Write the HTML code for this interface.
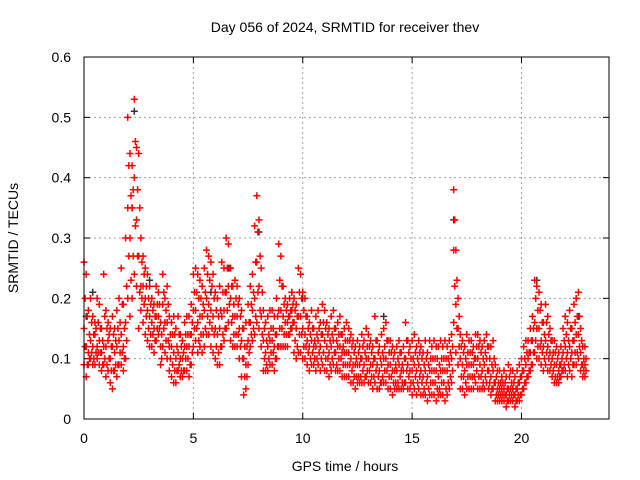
<!DOCTYPE html>
<html><head><meta charset="utf-8"><style>
body{margin:0;background:#fff}
svg{display:block;font-family:"Liberation Sans",sans-serif}
</style></head><body>
<svg id="chart" width="640" height="480" viewBox="0 0 640 480" xmlns="http://www.w3.org/2000/svg">
<rect width="640" height="480" fill="#fff"/>
<text x="345" y="32" font-size="14" text-anchor="middle">Day 056 of 2024, SRMTID for receiver thev</text>
<text transform="translate(18,238) rotate(-90)" font-size="14" text-anchor="middle">SRMTID / TECUs</text>
<text x="345" y="471" font-size="14" text-anchor="middle">GPS time / hours</text>
<g id="grid"></g>
<g id="ticks"></g>
<g id="black"></g>
<g id="red"></g>
<rect x="84" y="57" width="525" height="362" fill="none" stroke="#000" stroke-width="1"/>
</svg>
<script>
const xTicks=[0,5,10,15,20];
const yTicks=[0,0.1,0.2,0.3,0.4,0.5,0.6];
const yTickLabels=["0","0.1","0.2","0.3","0.4","0.5","0.6"];
const tStep=0.1;
const redHi=[26,24,18,20,17,16,20,19,15,24,18,16,15,17,15,18,20,25,19,30,50,44,42,53,45,44,30,27,25,24,22,20,19,22,21,16,24,20,22,17,16,17,15,17,14,13,16,17,17,19,24,25,24,23,22,25,28,27,26,24,21,20,22,26,25,30,29,25,22,23,22,20,18,15,16,19,22,24,32,37,33,25,18,16,17,18,18,17,20,29,27,22,20,19,20,21,20,19,25,24,21,20,17,16,18,15,17,18,16,19,18,16,15,17,18,15,16,17,14,15,16,15,14,13,12,13,12,14,13,15,14,13,12,17,13,12,14,15,16,13,13,12,11,12,13,11,12,16,13,12,13,14,12,13,12,11,13,11,13,12,13,12,12,13,12,13,12,13,14,38,28,20,14,13,12,14,13,13,12,14,14,13,12,13,14,12,12,13,9,8,8,7,8,7,9,8,8,7,8,9,10,12,13,13,15,17,23,22,21,19,16,19,17,15,13,13,12,11,12,15,17,16,18,15,19,20,21,15,12,12];
const redQ3=[20,17,14,16,14,15,16,15,13,17,15,14,12,14,13,15,16,19,15,22,42,37,38,46,38,35,26,24,22,20,19,18,17,19,19,14,21,18,19,14,14,14,12,14,12,11,14,14,14,16,21,21,20,20,19,21,24,23,22,20,18,17,18,21,21,25,25,22,19,20,19,17,15,12,12,16,19,21,26,31,27,21,15,13,14,15,15,14,17,23,22,19,18,17,18,19,18,17,21,20,18,17,15,14,15,13,14,15,14,16,15,14,13,14,15,13,14,14,12,13,13,13,12,11,10,11,10,12,11,12,12,11,10,13,11,10,11,12,13,11,11,10,9,10,11,9,10,13,11,10,10,11,10,11,10,9,10,9,10,10,10,10,9,10,10,10,10,11,12,33,23,17,12,11,10,11,11,11,10,12,12,11,10,11,12,10,9,10,7,6,6,6,6,5,7,6,6,5,6,7,8,10,11,11,13,15,20,18,18,16,14,16,14,13,11,11,10,9,10,13,14,13,15,13,16,17,17,13,10,10];
const redMid=[15,12,11,13,12,14,12,13,11,12,12,13,10,12,11,12,13,14,12,16,35,30,35,40,33,27,22,22,20,18,17,16,15,17,17,12,19,16,16,12,12,11,10,11,10,10,12,12,12,14,18,18,16,17,17,18,20,19,18,17,15,14,15,17,18,21,22,20,17,17,17,15,13,10,9,13,16,18,20,26,22,17,13,11,12,13,13,12,14,18,18,17,16,16,17,18,16,15,17,17,15,14,13,12,13,12,12,13,12,14,13,12,11,12,13,11,12,12,11,11,11,11,10,9,9,9,9,10,9,10,10,9,9,10,9,8,9,10,10,9,9,8,8,8,9,8,8,10,9,8,8,9,8,9,8,7,8,7,8,8,8,8,7,8,8,8,8,9,10,28,19,15,10,9,8,9,9,9,9,10,10,9,8,9,10,8,7,8,6,5,5,5,5,4,5,5,5,4,5,6,7,8,9,10,11,13,16,15,15,13,12,13,12,11,10,9,9,8,9,11,12,11,12,11,13,14,14,11,9,9];
const redQ1=[12,9,10,11,10,11,11,11,9,10,9,10,8,8,9,9,11,11,10,13,27,23,27,32,27,21,20,19,17,15,14,14,13,15,15,10,15,13,13,10,9,8,8,9,8,8,10,10,9,11,15,15,13,14,14,15,17,16,15,14,12,11,12,14,15,18,19,16,14,14,14,12,10,7,7,11,14,15,17,21,18,14,10,9,10,11,11,10,12,15,15,14,14,14,15,16,13,12,14,14,12,12,11,10,11,10,10,11,10,11,10,10,9,10,11,9,10,10,9,9,9,9,8,7,7,7,7,8,7,8,8,7,7,8,7,6,7,8,8,7,7,6,6,6,7,6,6,8,7,6,6,7,6,7,6,5,6,5,6,6,6,5,5,6,6,5,6,7,8,22,15,12,7,7,6,7,7,7,7,8,7,7,6,7,8,6,5,6,4,4,4,4,4,3,4,4,4,3,4,4,5,6,7,8,9,11,13,12,12,11,10,11,10,9,8,7,7,7,8,9,10,9,10,9,11,11,12,9,8,8];
const redLo=[9,7,9,10,9,9,10,9,8,9,7,8,6,5,8,7,9,9,8,10,20,17,20,24,22,15,18,16,14,13,12,12,11,13,14,9,12,11,10,8,7,6,6,8,7,7,8,8,7,9,12,13,11,12,11,12,14,14,12,11,10,9,9,12,13,15,16,13,12,12,12,10,7,4,5,9,12,13,14,16,15,12,8,8,8,9,9,8,10,12,12,12,12,12,14,15,11,10,11,11,10,10,9,8,9,9,8,9,8,9,8,8,7,8,9,8,8,8,7,7,7,7,6,6,5,6,6,6,6,7,6,6,5,6,5,5,6,6,6,5,5,4,5,5,5,5,5,6,5,5,4,5,4,5,4,4,4,3,4,4,4,3,4,4,4,3,4,5,6,16,11,9,5,5,4,5,5,5,5,6,5,5,5,5,6,5,4,5,3,3,3,3,3,2,3,3,3,2,3,3,4,5,6,7,8,9,11,10,10,9,8,9,8,8,7,6,6,6,7,8,8,7,8,7,9,9,10,8,7,7];
const blackT=[0.1,0.4,2.2,2.3,3.0,5.8,6.6,8.0,9.5,10.0,13.7,16.9,20.7,22.6];
const blackV=[0.17,0.21,0.35,0.51,0.23,0.21,0.25,0.31,0.21,0.2,0.17,0.33,0.23,0.17];
const NS="http://www.w3.org/2000/svg";
const X=t=>84+t*(525/24);
const Y=v=>419-v*(362/0.6);
function mk(tag,attrs,parent){const e=document.createElementNS(NS,tag);for(const k in attrs)e.setAttribute(k,attrs[k]);parent.appendChild(e);return e;}
const grid=document.getElementById('grid'),ticks=document.getElementById('ticks');
xTicks.forEach((t,i)=>{
  const x=X(t);
  if(i>0){const g=mk('line',{x1:x,y1:57,x2:x,y2:419,stroke:'#a0a0a0','stroke-dasharray':'2,3'},grid);
  
  }
  mk('line',{x1:x,y1:419,x2:x,y2:413,stroke:'#000'},ticks);
  mk('line',{x1:x,y1:57,x2:x,y2:63,stroke:'#000'},ticks);
  const l=mk('text',{x:x,y:443,'font-size':14,'text-anchor':'middle'},ticks);l.textContent=String(t);
  
  
});
yTicks.forEach((v,i)=>{
  const y=Y(v);
  if(i>0&&i<yTicks.length-1){const g=mk('line',{x1:84,y1:y,x2:609,y2:y,stroke:'#a0a0a0','stroke-dasharray':'2,3'},grid);
  
  }
  mk('line',{x1:84,y1:y,x2:90,y2:y,stroke:'#000'},ticks);
  mk('line',{x1:609,y1:y,x2:603,y2:y,stroke:'#000'},ticks);
  const l=mk('text',{x:71,y:y+5,'font-size':14,'text-anchor':'end'},ticks);l.textContent=yTickLabels[i];
  
  
});
function plus(t,v,color,parent){
  const x=X(t),y=Y(v);
  const p=mk('path',{d:`M${x-3.5},${y}H${x+3.5}M${x},${y-3.5}V${y+3.5}`,stroke:color,'stroke-width':1.5,fill:'none'},parent);
  
  
}
const blk=document.getElementById('black'),red=document.getElementById('red');
blackT.forEach((t,i)=>plus(t,blackV[i],'#333',blk));
[redLo,redMid,redHi].forEach(arr=>arr.forEach((v,i)=>plus(i*tStep,v/100,'#ff0000',red)));
[redQ1,redQ3].forEach(arr=>arr.forEach((v,i)=>plus(i*tStep+tStep/2,v/100,'#ff0000',red)));
</script>
</body></html>
